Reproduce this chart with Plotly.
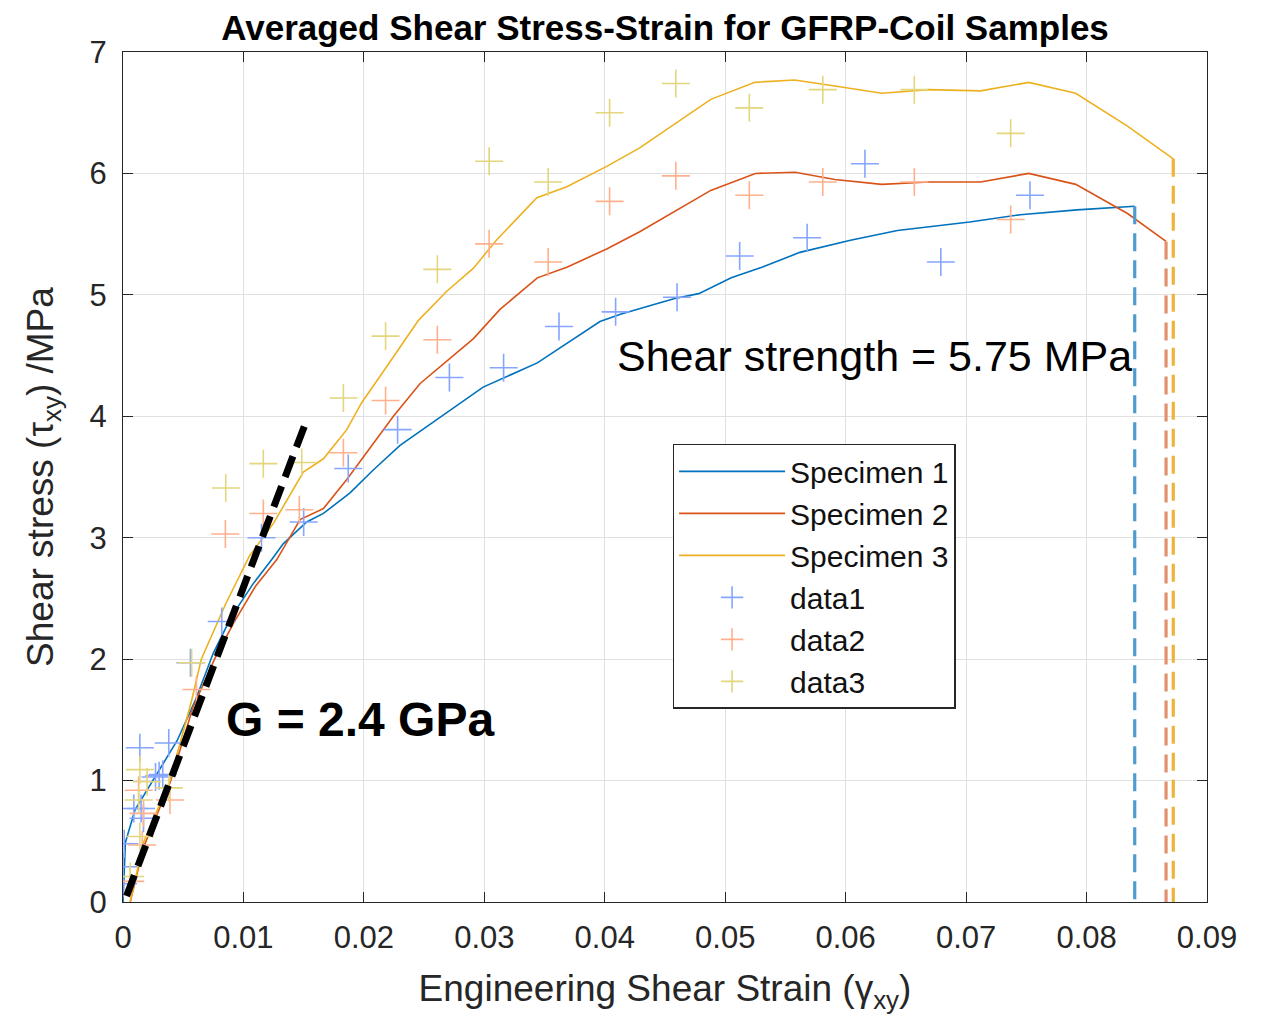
import plotly.graph_objects as go

# ---------------- data ----------------
s1_x = [0, 0.0002, 0.001, 0.0025, 0.0045, 0.006, 0.0075, 0.009, 0.0108, 0.01235, 0.0133, 0.01525,
        0.01664, 0.01885, 0.0208, 0.0230, 0.0266, 0.0299, 0.0344, 0.0396, 0.0413, 0.0458, 0.0478,
        0.0505, 0.0531, 0.0562, 0.0604, 0.0643, 0.0703, 0.0745, 0.0792, 0.0840]
s1_y = [0, 0.49, 0.76, 1.0, 1.33, 1.66, 2.05, 2.35, 2.62, 2.82, 2.95, 3.13,
        3.20, 3.37, 3.56, 3.76, 4.01, 4.24, 4.44, 4.78, 4.84, 4.97, 5.01,
        5.14, 5.23, 5.35, 5.45, 5.53, 5.60, 5.66, 5.70, 5.73]

s2_x = [0.0006, 0.0017, 0.0039, 0.0058, 0.0076, 0.0092, 0.0110, 0.01277, 0.0147, 0.01664, 0.01858,
        0.0202, 0.02245, 0.02467, 0.0269, 0.0291, 0.0313, 0.0344, 0.0369, 0.0402, 0.0429, 0.0488,
        0.0525, 0.0558, 0.0591, 0.0630, 0.0669, 0.0712, 0.0752, 0.0791, 0.0834, 0.0866]
s2_y = [0, 0.45, 0.98, 1.6, 2.0, 2.3, 2.6, 2.82, 3.15, 3.24, 3.48,
        3.70, 4.00, 4.27, 4.46, 4.64, 4.88, 5.14, 5.23, 5.38, 5.52, 5.86,
        6.00, 6.01, 5.95, 5.91, 5.93, 5.93, 6.00, 5.91, 5.67, 5.44]

s3_x = [0.0006, 0.0017, 0.0039, 0.0057, 0.0065, 0.0085, 0.0105, 0.0125, 0.01497, 0.01664, 0.01858,
        0.0198, 0.0219, 0.02453, 0.02688, 0.0291, 0.0310, 0.03436, 0.03685, 0.0402, 0.0429, 0.0488,
        0.05246, 0.05576, 0.0591, 0.0630, 0.0669, 0.0712, 0.0752, 0.0791, 0.0834, 0.0872]
s3_y = [0, 0.49, 1.0, 1.66, 2.0, 2.45, 2.85, 3.12, 3.54, 3.65, 3.89,
        4.11, 4.41, 4.79, 5.03, 5.22, 5.45, 5.80, 5.89, 6.06, 6.21, 6.61,
        6.75, 6.77, 6.72, 6.66, 6.69, 6.68, 6.75, 6.66, 6.39, 6.12]

d1_x = [0.0000, 0.0000, 0.0001, 0.0009, 0.0015, 0.0017, 0.0027, 0.0030, 0.0033, 0.0014, 0.0038,
        0.0056, 0.0082, 0.0115, 0.0150, 0.0187, 0.0228, 0.0271, 0.0316, 0.0362, 0.0409, 0.0460,
        0.0512, 0.0568, 0.0616, 0.0679, 0.0753]
d1_y = [0.15, 0.29, 0.48, 0.77, 0.77, 0.69, 1.03, 1.04, 1.05, 1.27, 1.31,
        1.97, 2.31, 3.00, 3.13, 3.57, 3.89, 4.32, 4.40, 4.74, 4.86, 4.98,
        5.32, 5.47, 6.08, 5.27, 5.82]

d2_x = [0.0006, 0.0016, 0.0017, 0.0013, 0.0039, 0.0061, 0.0085, 0.01165, 0.01464, 0.0183, 0.0218,
        0.0261, 0.0304, 0.0353, 0.0404, 0.0459, 0.0520, 0.0581, 0.0657, 0.0737]
d2_y = [0.17, 0.47, 0.73, 0.92, 0.84, 1.75, 3.03, 3.20, 3.23, 3.70, 4.13,
        4.63, 5.42, 5.27, 5.77, 5.98, 5.82, 5.93, 5.93, 5.62]

d3_x = [0.0006, 0.0014, 0.0013, 0.0038, 0.0020, 0.0014, 0.0057, 0.00853, 0.01165, 0.01484, 0.0183,
        0.0218, 0.0261, 0.0304, 0.0353, 0.0404, 0.0459, 0.0520, 0.0581, 0.0657, 0.0737]
d3_y = [0.21, 0.54, 0.84, 0.94, 0.99, 1.09, 1.97, 3.41, 3.61, 3.62, 4.15,
        4.66, 5.21, 6.10, 5.93, 6.50, 6.74, 6.54, 6.69, 6.69, 6.33]

g_x = [0.0003, 0.0151]
g_y = [0.05, 3.93]

x_ticks = [0, 0.01, 0.02, 0.03, 0.04, 0.05, 0.06, 0.07, 0.08, 0.09]
x_tick_text = ["0", "0.01", "0.02", "0.03", "0.04", "0.05", "0.06", "0.07", "0.08", "0.09"]
y_ticks = [0, 1, 2, 3, 4, 5, 6, 7]

FONT = "Liberation Sans, Arial, sans-serif"
C1, C2, C3 = "#0072BD", "#D95319", "#EDB120"
M1, M2, M3 = "#86a5ff", "#ffb08c", "#e3d67c"
V1, V2, V3 = "#4f9bd0", "#e4906c", "#ecb53a"

fig = go.Figure()

fig.add_trace(go.Scatter(x=s1_x, y=s1_y, mode="lines", name="Specimen 1",
                         line=dict(color=C1, width=1.6)))
fig.add_trace(go.Scatter(x=s2_x, y=s2_y, mode="lines", name="Specimen 2",
                         line=dict(color=C2, width=1.6)))
fig.add_trace(go.Scatter(x=s3_x, y=s3_y, mode="lines", name="Specimen 3",
                         line=dict(color=C3, width=1.6)))

for xs, ys, col, nm in [(d1_x, d1_y, M1, "data1"), (d2_x, d2_y, M2, "data2"), (d3_x, d3_y, M3, "data3")]:
    fig.add_trace(go.Scatter(x=xs, y=ys, mode="markers", name=nm,
                             marker=dict(symbol="cross-thin", size=20,
                                         line=dict(color=col, width=1.6))))

# vertical dashed failure lines
for xs, ys, col in [(s1_x, s1_y, V1), (s2_x, s2_y, V2), (s3_x, s3_y, V3)]:
    fig.add_trace(go.Scatter(x=[xs[-1], xs[-1]], y=[ys[-1], 0], mode="lines", showlegend=False,
                             line=dict(color=col, width=3.2, dash="18px,9px"), hoverinfo="skip"))

# modulus line
fig.add_trace(go.Scatter(x=g_x, y=g_y, mode="lines", showlegend=False,
                         line=dict(color="black", width=7, dash="22px,10px"), hoverinfo="skip"))

axis_common = dict(showline=True, linecolor="#262626", linewidth=1.3, mirror="ticks",
                   ticks="inside", ticklen=10, tickcolor="#262626", tickwidth=1.3,
                   showgrid=True, gridcolor="#e0e0e0", gridwidth=1.2, zeroline=False,
                   tickfont=dict(family=FONT, size=31, color="#262626"))

fig.update_xaxes(range=[0, 0.09], tickvals=x_ticks, ticktext=x_tick_text, ticklabelstandoff=8,
                 title=dict(text="Engineering Shear Strain (γ<sub>xy</sub>)",
                            font=dict(family=FONT, size=37, color="#262626"), standoff=20),
                 **axis_common)
fig.update_yaxes(range=[0, 7], tickvals=y_ticks, ticklabelstandoff=9,
                 title=dict(text="Shear stress (τ<sub>xy</sub>) /MPa",
                            font=dict(family=FONT, size=37, color="#262626"), standoff=24),
                 **axis_common)

fig.update_layout(
    width=1266, height=1022,
    margin=dict(l=115, r=67, t=44, b=128, autoexpand=False),
    plot_bgcolor="white", paper_bgcolor="white",
    title=dict(text="<b>Averaged Shear Stress-Strain for GFRP-Coil Samples</b>",
               font=dict(family=FONT, size=35, color="black"),
               x=0.519, xanchor="center", y=1.0, yanchor="top", yref="container",
               pad=dict(t=7)),
    legend=dict(x=0.507, y=0.539, xanchor="left", yanchor="top",
                bgcolor="white", bordercolor="#262626", borderwidth=1.5,
                font=dict(family=FONT, size=30, color="#111111"),
                itemwidth=106, tracegroupgap=0),
    showlegend=True,
    annotations=[
        dict(x=0.0624, y=4.50, xref="x", yref="y", text="Shear strength = 5.75 MPa",
             showarrow=False, font=dict(family=FONT, size=43, color="black"),
             xanchor="center", yanchor="middle"),
        dict(x=0.00835, y=1.50, xref="x", yref="y", text="<b>G = 2.4 GPa</b>",
             showarrow=False, font=dict(family=FONT, size=48, color="black"),
             xanchor="left", yanchor="middle"),
    ],
)

fig.write_html("out.html")
